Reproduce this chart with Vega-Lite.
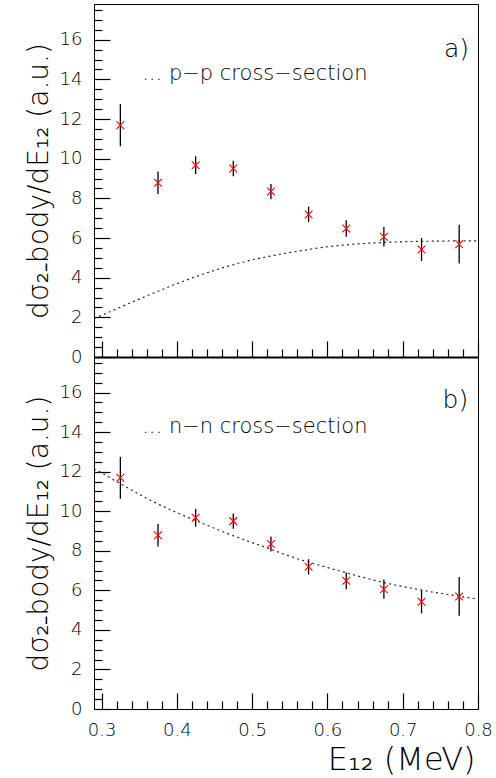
{
  "$schema": "https://vega.github.io/schema/vega-lite/v6.json",
  "background": "white",
  "padding": {"left": 24, "top": 0, "right": 0, "bottom": 0},
  "spacing": 0,
  "bounds": "flush",
  "config": {
    "font": "DejaVu Sans",
    "view": {"stroke": "black", "strokeWidth": 1},
    "axis": {
      "labelFont": "DejaVu Sans",
      "labelFontWeight": 200,
      "labelFontSize": 18,
      "labelColor": "black",
      "labelOverlap": false,
      "titleFont": "DejaVu Sans",
      "titleFontWeight": 200,
      "titleFontSize": 28,
      "titleColor": "black",
      "tickColor": "black",
      "tickWidth": 1.2,
      "domainColor": "black",
      "grid": false
    }
  },
  "datasets": {
    "pts": [
      {"e": 0.325, "y": 11.69, "lo": 10.63, "hi": 12.75},
      {"e": 0.375, "y": 8.79, "lo": 8.22, "hi": 9.35},
      {"e": 0.425, "y": 9.67, "lo": 9.22, "hi": 10.12},
      {"e": 0.475, "y": 9.5, "lo": 9.11, "hi": 9.89},
      {"e": 0.525, "y": 8.34, "lo": 7.96, "hi": 8.72},
      {"e": 0.575, "y": 7.19, "lo": 6.8, "hi": 7.58},
      {"e": 0.625, "y": 6.48, "lo": 6.06, "hi": 6.9},
      {"e": 0.675, "y": 6.06, "lo": 5.57, "hi": 6.55},
      {"e": 0.725, "y": 5.42, "lo": 4.84, "hi": 6.0},
      {"e": 0.775, "y": 5.69, "lo": 4.71, "hi": 6.67}
    ],
    "pp": [
      {"e": 0.29, "y": 1.95}, {"e": 0.3, "y": 2.1}, {"e": 0.32, "y": 2.43}, {"e": 0.34, "y": 2.76},
      {"e": 0.36, "y": 3.08}, {"e": 0.38, "y": 3.39}, {"e": 0.4, "y": 3.7}, {"e": 0.42, "y": 3.98},
      {"e": 0.44, "y": 4.25}, {"e": 0.46, "y": 4.49}, {"e": 0.48, "y": 4.71}, {"e": 0.5, "y": 4.9},
      {"e": 0.52, "y": 5.06}, {"e": 0.54, "y": 5.2}, {"e": 0.56, "y": 5.33}, {"e": 0.58, "y": 5.45},
      {"e": 0.6, "y": 5.56}, {"e": 0.62, "y": 5.64}, {"e": 0.64, "y": 5.7}, {"e": 0.66, "y": 5.75},
      {"e": 0.68, "y": 5.79}, {"e": 0.7, "y": 5.81}, {"e": 0.72, "y": 5.83}, {"e": 0.74, "y": 5.84},
      {"e": 0.76, "y": 5.85}, {"e": 0.78, "y": 5.86}, {"e": 0.8, "y": 5.86}
    ],
    "nn": [
      {"e": 0.29, "y": 12.15}, {"e": 0.3, "y": 11.95}, {"e": 0.32, "y": 11.5}, {"e": 0.34, "y": 11.07},
      {"e": 0.36, "y": 10.65}, {"e": 0.38, "y": 10.27}, {"e": 0.4, "y": 9.93}, {"e": 0.42, "y": 9.61},
      {"e": 0.44, "y": 9.29}, {"e": 0.46, "y": 8.98}, {"e": 0.48, "y": 8.69}, {"e": 0.5, "y": 8.41},
      {"e": 0.52, "y": 8.15}, {"e": 0.54, "y": 7.86}, {"e": 0.56, "y": 7.6}, {"e": 0.58, "y": 7.37},
      {"e": 0.6, "y": 7.15}, {"e": 0.62, "y": 6.94}, {"e": 0.64, "y": 6.73}, {"e": 0.66, "y": 6.53},
      {"e": 0.68, "y": 6.35}, {"e": 0.7, "y": 6.19}, {"e": 0.72, "y": 6.05}, {"e": 0.74, "y": 5.91},
      {"e": 0.76, "y": 5.79}, {"e": 0.78, "y": 5.67}, {"e": 0.8, "y": 5.56}
    ]
  },
  "vconcat": [
    {
      "width": 384,
      "height": 353,
      "layer": [
        {
          "data": {"name": "pp"},
          "mark": {"type": "line", "stroke": "#222", "strokeWidth": 1.2, "strokeDash": [2, 3.3]},
          "encoding": {
            "x": {"field": "e", "type": "quantitative", "scale": {"domain": [0.29, 0.8], "nice": false, "zero": false},
              "axis": {
                "values": [0.3,0.32,0.34,0.36,0.38,0.4,0.42,0.44,0.46,0.48,0.5,0.52,0.54,0.56,0.58,0.6,0.62,0.64,0.66,0.68,0.7,0.72,0.74,0.76,0.78,0.8],
                "tickCount": 100,
                "tickSize": {"condition": {"test": "abs(datum.value*10 - round(datum.value*10)) < 0.01", "value": -16}, "value": -8},
                "labels": false,
                "labelOverlap": false,
                "title": null,
                "domainWidth": 2
              }
            },
            "y": {"field": "y", "type": "quantitative", "scale": {"domain": [0, 17.8], "nice": false},
              "axis": {
                "values": [0,0.5,1,1.5,2,2.5,3,3.5,4,4.5,5,5.5,6,6.5,7,7.5,8,8.5,9,9.5,10,10.5,11,11.5,12,12.5,13,13.5,14,14.5,15,15.5,16,16.5,17,17.5],
                "tickCount": 100,
                "tickSize": {"condition": {"test": "abs(datum.value/2 - round(datum.value/2)) < 0.01", "value": -16}, "value": -8},
                "labelExpr": "abs(datum.value/2 - round(datum.value/2)) < 0.01 ? format(datum.value, 'd') : ''",
                "labelOverlap": false,
                "labelPadding": 28,
                "domain": false,
                "title": "dσ₂₋body/dE₁₂  (a.u.)",
                "titleFontSize": 28,
                "titleBaseline": "alphabetic",
                "titleX": -47
              }
            }
          }
        },
        {
          "data": {"name": "pts"},
          "mark": {"type": "rule", "color": "black", "strokeWidth": 1.3},
          "encoding": {
            "x": {"field": "e", "type": "quantitative"},
            "y": {"field": "lo", "type": "quantitative"},
            "y2": {"field": "hi"}
          }
        },
        {
          "data": {"name": "pts"},
          "mark": {"type": "point", "shape": "M-1,-1L1,1M1,-1L-1,1", "filled": false, "stroke": "red", "strokeWidth": 1.1, "size": 60, "opacity": 1},
          "encoding": {
            "x": {"field": "e", "type": "quantitative"},
            "y": {"field": "y", "type": "quantitative"}
          }
        },
        {
          "data": {"values": [{}]},
          "mark": {"type": "text", "align": "left", "baseline": "alphabetic", "fontSize": 21, "fontWeight": 200, "color": "black"},
          "encoding": {
            "x": {"datum": 0.354, "type": "quantitative"},
            "y": {"datum": 13.97, "type": "quantitative"},
            "text": {"value": "... p−p cross−section"}
          }
        },
        {
          "data": {"values": [{}]},
          "mark": {"type": "text", "align": "right", "baseline": "alphabetic", "fontSize": 25, "fontWeight": 200, "color": "black"},
          "encoding": {
            "x": {"datum": 0.788, "type": "quantitative"},
            "y": {"datum": 15.12, "type": "quantitative"},
            "text": {"value": "a)"}
          }
        }
      ]
    },
    {
      "width": 384,
      "height": 352,
      "layer": [
        {
          "data": {"name": "nn"},
          "mark": {"type": "line", "stroke": "#222", "strokeWidth": 1.2, "strokeDash": [2, 3.3]},
          "encoding": {
            "x": {"field": "e", "type": "quantitative", "scale": {"domain": [0.29, 0.8], "nice": false, "zero": false},
              "axis": {
                "values": [0.3,0.32,0.34,0.36,0.38,0.4,0.42,0.44,0.46,0.48,0.5,0.52,0.54,0.56,0.58,0.6,0.62,0.64,0.66,0.68,0.7,0.72,0.74,0.76,0.78,0.8],
                "tickCount": 100,
                "tickSize": {"condition": {"test": "abs(datum.value*10 - round(datum.value*10)) < 0.01", "value": -16}, "value": -8},
                "labelExpr": "abs(datum.value*10 - round(datum.value*10)) < 0.01 ? format(datum.value, '.1f') : ''",
                "labelOverlap": false,
                "labelFlush": false,
                "labelPadding": 28,
                "labelBaseline": "top",
                "domain": false,
                "title": "E₁₂ (MeV)",
                "titleFontSize": 32,
                "titleAlign": "right",
                "titleAnchor": "end",
                "titleBaseline": "alphabetic",
                "titleX": 381,
                "titleY": 60
              }
            },
            "y": {"field": "y", "type": "quantitative", "scale": {"domain": [0, 17.8], "nice": false},
              "axis": {
                "values": [0,0.5,1,1.5,2,2.5,3,3.5,4,4.5,5,5.5,6,6.5,7,7.5,8,8.5,9,9.5,10,10.5,11,11.5,12,12.5,13,13.5,14,14.5,15,15.5,16,16.5,17,17.5],
                "tickCount": 100,
                "tickSize": {"condition": {"test": "abs(datum.value/2 - round(datum.value/2)) < 0.01", "value": -16}, "value": -8},
                "labelExpr": "abs(datum.value/2 - round(datum.value/2)) < 0.01 ? format(datum.value, 'd') : ''",
                "labelOverlap": false,
                "labelPadding": 28,
                "domain": false,
                "title": "dσ₂₋body/dE₁₂  (a.u.)",
                "titleFontSize": 28,
                "titleBaseline": "alphabetic",
                "titleX": -47
              }
            }
          }
        },
        {
          "data": {"name": "pts"},
          "mark": {"type": "rule", "color": "black", "strokeWidth": 1.3},
          "encoding": {
            "x": {"field": "e", "type": "quantitative"},
            "y": {"field": "lo", "type": "quantitative"},
            "y2": {"field": "hi"}
          }
        },
        {
          "data": {"name": "pts"},
          "mark": {"type": "point", "shape": "M-1,-1L1,1M1,-1L-1,1", "filled": false, "stroke": "red", "strokeWidth": 1.1, "size": 60, "opacity": 1},
          "encoding": {
            "x": {"field": "e", "type": "quantitative"},
            "y": {"field": "y", "type": "quantitative"}
          }
        },
        {
          "data": {"values": [{}]},
          "mark": {"type": "text", "align": "left", "baseline": "alphabetic", "fontSize": 21, "fontWeight": 200, "color": "black"},
          "encoding": {
            "x": {"datum": 0.354, "type": "quantitative"},
            "y": {"datum": 13.98, "type": "quantitative"},
            "text": {"value": "... n−n cross−section"}
          }
        },
        {
          "data": {"values": [{}]},
          "mark": {"type": "text", "align": "right", "baseline": "alphabetic", "fontSize": 25, "fontWeight": 200, "color": "black"},
          "encoding": {
            "x": {"datum": 0.787, "type": "quantitative"},
            "y": {"datum": 15.24, "type": "quantitative"},
            "text": {"value": "b)"}
          }
        }
      ]
    }
  ]
}
